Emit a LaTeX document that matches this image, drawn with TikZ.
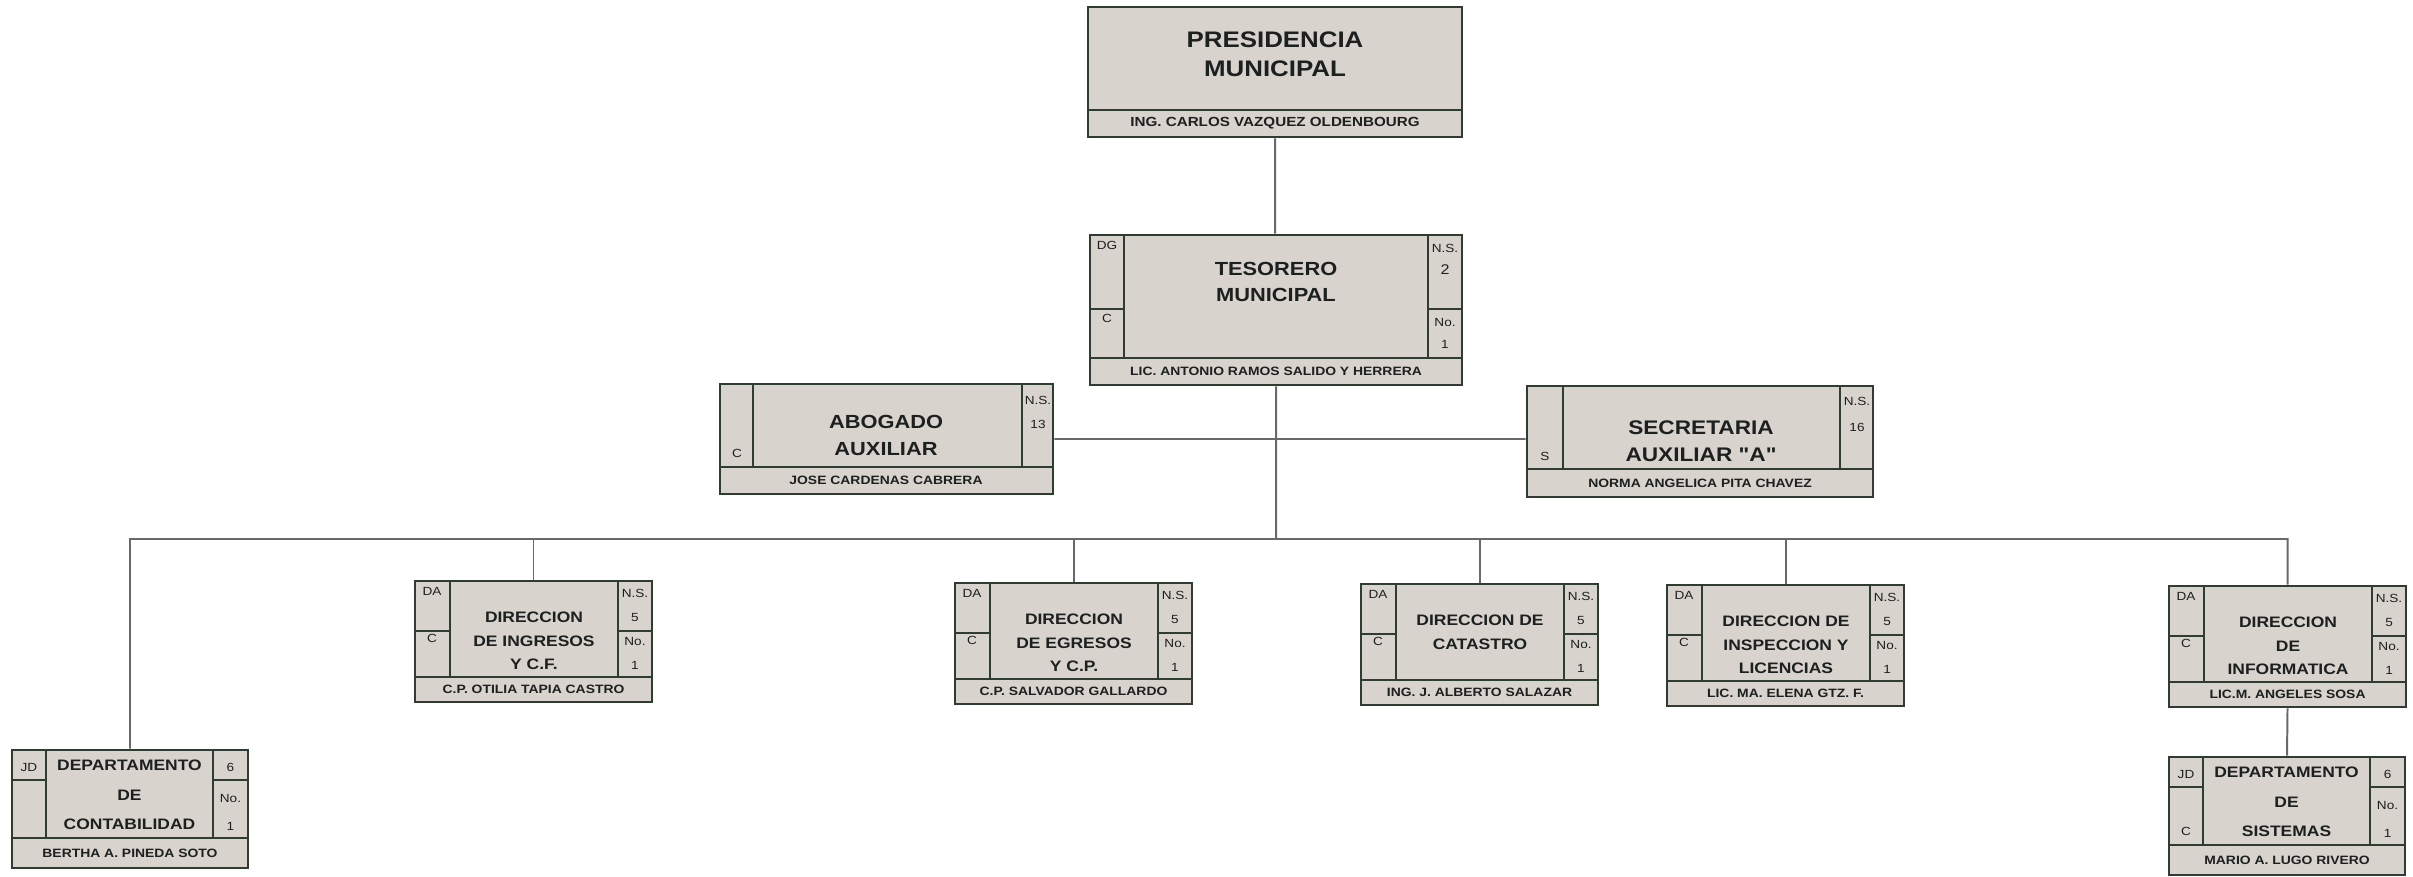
\documentclass[tikz,border=0pt]{standalone}
\usepackage{fontspec}
\setmainfont{Liberation Sans}[FakeStretch=1.15]
\newfontfamily\recto{Liberation Sans}[FakeStretch=1.15]
\usetikzlibrary{fit,calc}

\definecolor{fondo}{RGB}{216,211,205}
\definecolor{marco}{RGB}{46,60,50}
\definecolor{gris}{RGB}{105,105,105}
\definecolor{letra}{RGB}{28,32,30}

\newcommand{\direccion}[5]{%
	\node[caja, fit={(#2,#3) (#2+237,#3+121)}] (#1) {};
	\draw[rejilla]
		(#2,#3+96) -- (#2+237,#3+96)
		(#2+35,#3) -- (#2+35,#3+96)
		(#2+203,#3) -- (#2+203,#3+96)
		(#2,#3+50) -- (#2+35,#3+50)
		(#2+203,#3+50) -- (#2+237,#3+50);
	\node[titulo] (#1-tit) at (#2+119,#3+31) {#4};
	\node[nombre] (#1-nom) at (#2+118.5,#3+108.5) {#5};
	\node[clave] (#1-k1) at (#2+17,#3+6) {DA};
	\node[clave] (#1-k2) at (#2+17,#3+53) {C};
	\node[clave] (#1-k3) at (#2+220,#3+8) {N.S.};
	\node[clave] (#1-k4) at (#2+220,#3+32) {5};
	\node[clave] (#1-k5) at (#2+220,#3+56) {No.};
	\node[clave] (#1-k6) at (#2+220,#3+80) {1};
}

\newcommand{\departamento}[6]{%
	\node[caja, fit={(#2,#3) (#2+236,#3+118)}] (#1) {};
	\draw[rejilla]
		(#2,#3+88) -- (#2+236,#3+88)
		(#2+34,#3) -- (#2+34,#3+88)
		(#2+201,#3) -- (#2+201,#3+88)
		(#2,#3+30) -- (#2+34,#3+30)
		(#2+201,#3+30) -- (#2+236,#3+30);
	\node[titulo, font=\bfseries\fontsize{10.8}{21}\selectfont] (#1-tit) at (#2+117.5,#3+10) {#4};
	\node[nombre] (#1-nom) at (#2+118,#3+103) {#5};
	\node[clave] (#1-k1) at (#2+17,#3+13) {JD};
	\node[clave] (#1-k2) at (#2+17,#3+70) {#6};
	\node[clave] (#1-k3) at (#2+218.5,#3+13) {6};
	\node[clave] (#1-k4) at (#2+218.5,#3+44) {No.};
	\node[clave] (#1-k5) at (#2+218.5,#3+72) {1};
}

\begin{document}
\begin{tikzpicture}[
		x=0.25mm, y=-0.25mm,
		caja/.style={draw=marco, fill=fondo, line width=2pt, inner sep=0pt},
		rejilla/.style={draw=marco, line width=1.6pt},
		liga/.style={draw=gris, line width=1.4pt},
		titulo/.style={anchor=north, align=center, inner sep=0pt, text=letra, font=\bfseries\fontsize{10.8}{16.7}\selectfont},
		nombre/.style={inner sep=0pt, text=letra, font=\bfseries\fontsize{8.6}{10}\selectfont},
		clave/.style={anchor=north, inner sep=0pt, text=letra, font=\fontsize{8.4}{9}\selectfont}
		]
		\useasboundingbox (0,0) rectangle (2413,877);

		\node[caja, fit={(1088,7) (1462,137)}] (pres) {};
		\draw[rejilla] (1088,110) -- (1462,110);
		\node[titulo, font=\bfseries\fontsize{16}{20}\selectfont] (pres-tit) at (1275,32) {PRESIDENCIA\\MUNICIPAL};
		\node[nombre, font=\bfseries\fontsize{9.4}{11}\selectfont] (pres-nom) at (1275,123.5) {ING. CARLOS VAZQUEZ OLDENBOURG};

		\node[caja, fit={(1090,235) (1462,385)}] (teso) {};
		\draw[rejilla] (1090,358) -- (1462,358) (1124,235) -- (1124,358) (1428,235) -- (1428,358)
			(1090,309) -- (1124,309) (1428,309) -- (1462,309);
		\node[titulo, font=\bfseries\fontsize{13.5}{18.5}\selectfont] (teso-tit) at (1276,262) {TESORERO\\MUNICIPAL};
		\node[nombre] (teso-nom) at (1276,371.5) {LIC. ANTONIO RAMOS SALIDO Y HERRERA};
		\node[clave] (teso-k1) at (1107,241) {DG};
		\node[clave] (teso-k2) at (1107,314) {C};
		\node[clave] (teso-k3) at (1445,244) {N.S.};
		\node[clave, font=\fontsize{10}{12}\selectfont] (teso-k4) at (1445,264) {2};
		\node[clave] (teso-k5) at (1445,318) {No.};
		\node[clave] (teso-k6) at (1445,340) {1};

		\node[caja, fit={(720,384) (1053,494)}] (abog) {};
		\draw[rejilla] (720,467) -- (1053,467) (753,384) -- (753,467) (1022,384) -- (1022,467);
		\node[titulo, font=\bfseries\fontsize{13.5}{19.2}\selectfont] (abog-tit) at (886,415) {ABOGADO\\AUXILIAR};
		\node[nombre] (abog-nom) at (886,480.5) {JOSE CARDENAS CABRERA};
		\node[clave] (abog-k1) at (737,449) {C};
		\node[clave] (abog-k2) at (1038,396) {N.S.};
		\node[clave] (abog-k3) at (1038,420) {13};

		\node[caja, fit={(1527,386) (1873,497)}] (secr) {};
		\draw[rejilla] (1527,469) -- (1873,469) (1563,386) -- (1563,469) (1840,386) -- (1840,469);
		\node[titulo, font=\bfseries\fontsize{14}{19.2}\selectfont] (secr-tit) at (1701,420) {SECRETARIA\\AUXILIAR {\recto"A"}};
		\node[nombre] (secr-nom) at (1700,483) {NORMA ANGELICA PITA CHAVEZ};
		\node[clave] (secr-k1) at (1545,452) {S};
		\node[clave] (secr-k2) at (1857,397) {N.S.};
		\node[clave] (secr-k3) at (1857,423) {16};

		\direccion{ingr}{415}{581}{DIRECCION\\DE INGRESOS\\Y C.F.}{C.P. OTILIA TAPIA CASTRO}
		\direccion{egre}{955}{583}{DIRECCION\\DE EGRESOS\\Y C.P.}{C.P. SALVADOR GALLARDO}
		\direccion{cata}{1361}{584}{DIRECCION DE\\CATASTRO}{ING. J. ALBERTO SALAZAR}
		\direccion{insp}{1667}{585}{DIRECCION DE\\INSPECCION Y\\LICENCIAS}{LIC. MA. ELENA GTZ. F.}
		\direccion{info}{2169}{586}{DIRECCION\\DE\\INFORMATICA}{LIC.M. ANGELES SOSA}

		\departamento{cont}{12}{750}{DEPARTAMENTO\\DE\\CONTABILIDAD}{BERTHA A. PINEDA SOTO}{}
		\departamento{sist}{2169}{757}{DEPARTAMENTO\\DE\\SISTEMAS}{MARIO A. LUGO RIVERO}{C}

		\coordinate (bus) at (1280,539);
		\draw[liga] (pres.south) -- (pres.south |- teso.north)
			(teso.south) -- (teso.south |- bus)
			(abog.east) -- (abog.east -| secr.west)
			(cont.north) -- (cont.north |- bus) -- (bus -| info.north) -- (info.north)
			(info.south) -- (sist.north);
		\foreach \d in {ingr,egre,cata,insp}
			\draw[liga] (\d.north) -- (\d.north |- bus);
	\end{tikzpicture}
\end{document}
